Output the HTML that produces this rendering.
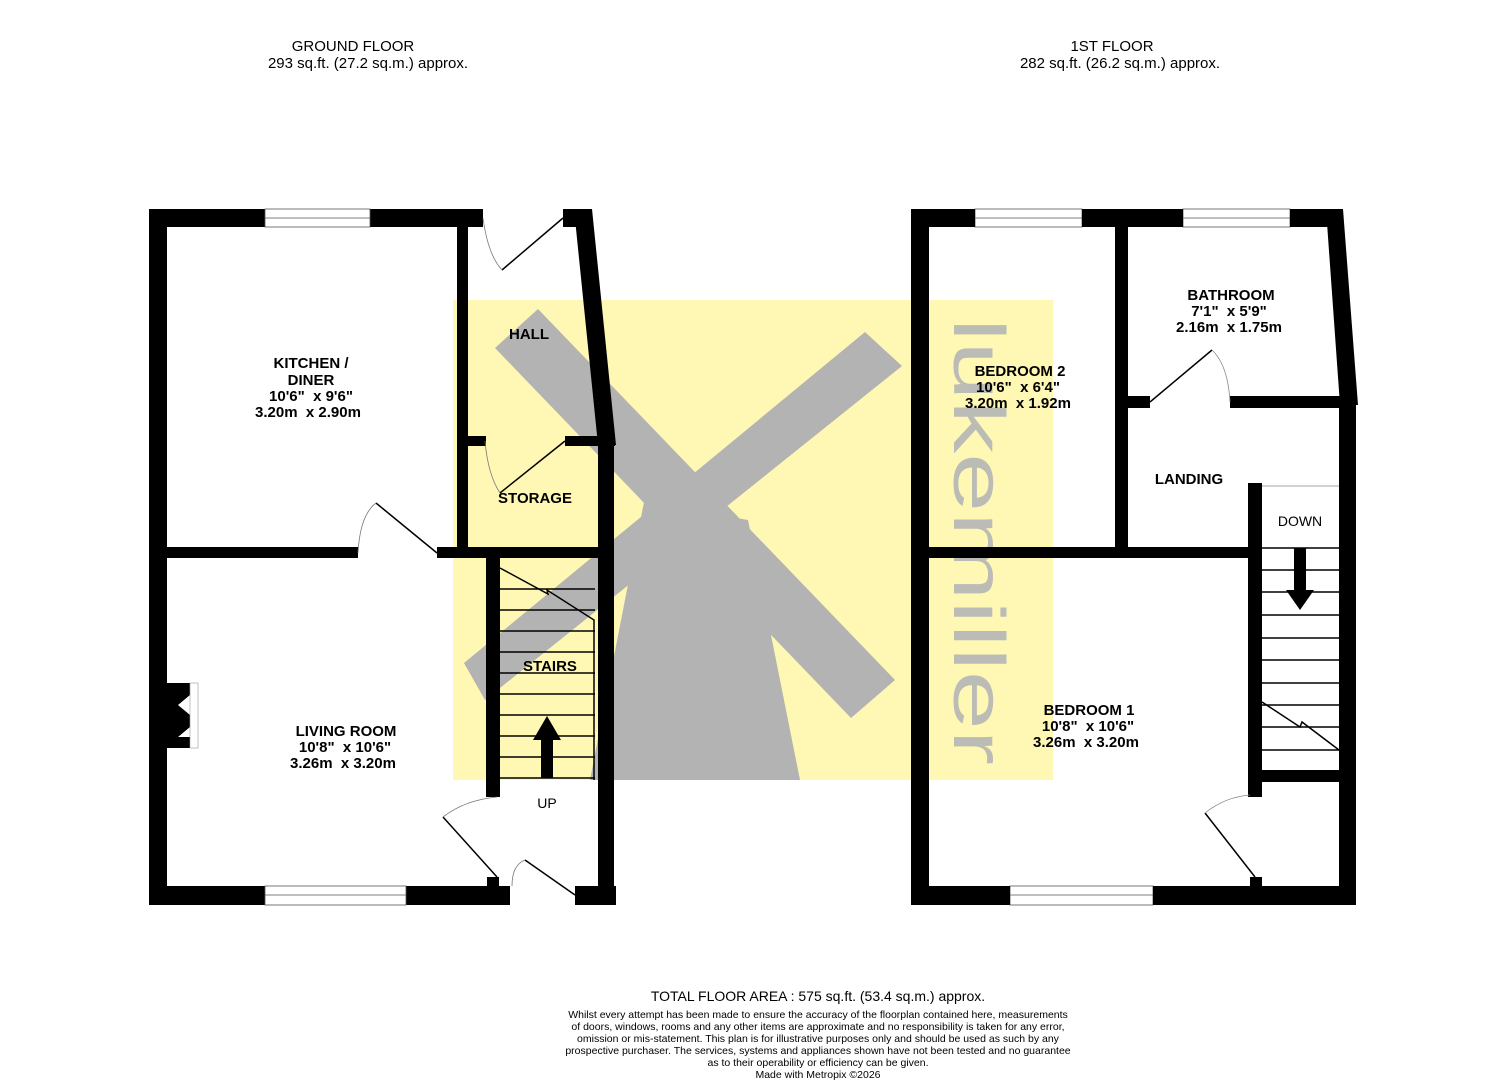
<!DOCTYPE html>
<html><head><meta charset="utf-8"><style>
html,body{margin:0;padding:0;background:#fff}
svg{display:block}
text{font-family:"Liberation Sans",Arial,sans-serif;white-space:pre}
</style></head><body>
<svg width="1505" height="1080" viewBox="0 0 1505 1080" xmlns="http://www.w3.org/2000/svg" xml:space="preserve">
<rect x="453" y="300" width="600" height="480" fill="#fff7b4"/>
<g fill="#b3b3b3">
<polygon points="538,309 495,348 851,718 895,680"/>
<polygon points="865,332 902,366 485,700 464,663"/>
<polygon points="644,502 748,520 800,780 590,780"/>
</g>
<text transform="translate(954,318) rotate(90)" font-size="72" fill="#bcbcb6" textLength="447" lengthAdjust="spacingAndGlyphs">lukemiller</text>

<g font-size="15" text-anchor="middle" fill="#000">
<text x="353" y="51">GROUND FLOOR</text>
<text x="368" y="68">293 sq.ft. (27.2 sq.m.) approx.</text>
<text x="1112" y="51">1ST FLOOR</text>
<text x="1120" y="68">282 sq.ft. (26.2 sq.m.) approx.</text>
<text x="818" y="1001" font-size="14">TOTAL FLOOR AREA : 575 sq.ft. (53.4 sq.m.) approx.</text>
<g font-size="10.5">
<text x="818" y="1018">Whilst every attempt has been made to ensure the accuracy of the floorplan contained here, measurements</text>
<text x="818" y="1030">of doors, windows, rooms and any other items are approximate and no responsibility is taken for any error,</text>
<text x="818" y="1042">omission or mis-statement. This plan is for illustrative purposes only and should be used as such by any</text>
<text x="818" y="1054">prospective purchaser. The services, systems and appliances shown have not been tested and no guarantee</text>
<text x="818" y="1066">as to their operability or efficiency can be given.</text>
<text x="818" y="1078">Made with Metropix ©2026</text>
</g>
</g>

<g fill="#000">
<rect x="149" y="209" width="116" height="18"/>
<rect x="370" y="209" width="113" height="18"/>
<rect x="563" y="209" width="28" height="18"/>
<rect x="149" y="209" width="18" height="696"/>
<rect x="149" y="886" width="116" height="19"/>
<rect x="406" y="886" width="104" height="19"/>
<rect x="575" y="886" width="41" height="19"/>
<polygon points="574,209 592,209 616,445 598,445"/>
<rect x="598" y="436" width="16" height="469"/>
<rect x="167" y="547" width="191" height="11"/>
<rect x="437" y="547" width="177" height="11"/>
<rect x="457" y="227" width="11" height="320"/>
<rect x="468" y="436" width="18" height="10"/>
<rect x="565" y="436" width="50" height="10"/>
<rect x="486" y="558" width="14" height="239"/>
<rect x="487" y="877" width="12" height="13"/>
<polygon points="167,683 190,683 190,695 178,705 190,715 190,727 178,737 190,737 190,748 167,748"/>
</g>
<rect x="190" y="683" width="8" height="65" fill="#fff" stroke="#999" stroke-width="0.6"/>
<g fill="#fff" stroke="#555" stroke-width="0.8">
<rect x="265" y="209" width="105" height="18"/><line x1="265" y1="218" x2="370" y2="218"/>
<rect x="265" y="886" width="141" height="19"/><line x1="265" y1="895" x2="406" y2="895"/>
<rect x="975" y="209" width="107" height="18"/><line x1="975" y1="218" x2="1082" y2="218"/>
<rect x="1183" y="209" width="107" height="18"/><line x1="1183" y1="218" x2="1290" y2="218"/>
<rect x="1010" y="886" width="143" height="19"/><line x1="1010" y1="895" x2="1153" y2="895"/>
</g>
<g stroke="#000" stroke-width="1.5" fill="none">
<line x1="500" y1="589" x2="595" y2="589"/><line x1="500" y1="610" x2="595" y2="610"/>
<line x1="500" y1="631" x2="595" y2="631"/><line x1="500" y1="652" x2="595" y2="652"/>
<line x1="500" y1="673" x2="595" y2="673"/><line x1="500" y1="694" x2="595" y2="694"/>
<line x1="500" y1="715" x2="595" y2="715"/><line x1="500" y1="736" x2="595" y2="736"/>
<line x1="500" y1="757" x2="595" y2="757"/><line x1="500" y1="778" x2="595" y2="778"/>
<polyline points="500,568 548,594 547,590 594,620 594,780"/>
<line x1="563" y1="218" x2="502" y2="270"/>
<line x1="565" y1="441" x2="500" y2="493"/>
<line x1="437" y1="553" x2="376" y2="503"/>
<line x1="497" y1="877" x2="443" y2="817"/>
<line x1="575" y1="895" x2="525" y2="860"/>
</g>
<g stroke="#777" stroke-width="0.8" fill="none">
<path d="M483,218 Q488,255 502,270"/>
<path d="M485,441 Q488,475 500,493"/>
<path d="M358,553 Q360,515 376,503"/>
<path d="M443,817 Q465,800 497,797"/>
<path d="M512,886 Q512,865 525,860"/>
</g>
<polygon points="541,778 553,778 553,740 561,740 547,716 533,740 541,740" fill="#000"/>

<g font-size="15" font-weight="bold" text-anchor="middle">
<text x="529" y="339">HALL</text>
<text x="535" y="503">STORAGE</text>
<text x="550" y="671">STAIRS</text>
<text x="311" y="368">KITCHEN /</text>
<text x="311" y="385">DINER</text>
<text x="311" y="401">10'6"  x 9'6"</text>
<text x="308" y="417">3.20m  x 2.90m</text>
<text x="346" y="736">LIVING ROOM</text>
<text x="345" y="752">10'8"  x 10'6"</text>
<text x="343" y="768">3.26m  x 3.20m</text>
<text x="1231" y="300">BATHROOM</text>
<text x="1229" y="316">7'1"  x 5'9"</text>
<text x="1229" y="332">2.16m  x 1.75m</text>
<text x="1020" y="376">BEDROOM 2</text>
<text x="1018" y="392">10'6"  x 6'4"</text>
<text x="1018" y="408">3.20m  x 1.92m</text>
<text x="1189" y="484">LANDING</text>
<text x="1089" y="715">BEDROOM 1</text>
<text x="1088" y="731">10'8"  x 10'6"</text>
<text x="1086" y="747">3.26m  x 3.20m</text>
</g>
<g font-size="14" text-anchor="middle">
<text x="547" y="808">UP</text>
<text x="1300" y="526">DOWN</text>
</g>

<g fill="#000">
<rect x="911" y="209" width="64" height="18"/>
<rect x="1082" y="209" width="101" height="18"/>
<rect x="1290" y="209" width="53" height="18"/>
<rect x="911" y="209" width="18" height="696"/>
<rect x="911" y="886" width="99" height="19"/>
<rect x="1153" y="886" width="203" height="19"/>
<polygon points="1326,209 1343,209 1358,405 1340,405"/>
<rect x="1339" y="396" width="17" height="509"/>
<rect x="1115" y="227" width="13" height="320"/>
<rect x="1128" y="396" width="22" height="12"/>
<rect x="1230" y="396" width="126" height="12"/>
<rect x="929" y="547" width="333" height="11"/>
<rect x="1248" y="483" width="14" height="314"/>
<rect x="1262" y="770" width="78" height="12"/>
<rect x="1250" y="877" width="12" height="13"/>
</g>
<g stroke="#000" stroke-width="1.5" fill="none">
<line x1="1262" y1="548" x2="1339" y2="548"/>
<line x1="1262" y1="570" x2="1339" y2="570"/><line x1="1262" y1="592" x2="1339" y2="592"/>
<line x1="1262" y1="615" x2="1339" y2="615"/><line x1="1262" y1="638" x2="1339" y2="638"/>
<line x1="1262" y1="660" x2="1339" y2="660"/><line x1="1262" y1="683" x2="1339" y2="683"/>
<line x1="1262" y1="705" x2="1339" y2="705"/><line x1="1262" y1="727" x2="1339" y2="727"/>
<line x1="1262" y1="750" x2="1339" y2="750"/>
<polyline points="1262,702 1300,727 1302,722 1339,750"/>
<line x1="1150" y1="402" x2="1212" y2="350"/>
<line x1="1255" y1="877" x2="1205" y2="813"/>
</g>
<g stroke="#888" stroke-width="0.8" fill="none">
<line x1="1262" y1="486" x2="1339" y2="486"/>
<path d="M1212,350 Q1228,365 1230,402"/>
<path d="M1205,813 Q1225,797 1250,795"/>
</g>
<polygon points="1294,548 1306,548 1306,590 1314,590 1300,610 1286,590 1294,590" fill="#000"/>
</svg>
</body></html>
